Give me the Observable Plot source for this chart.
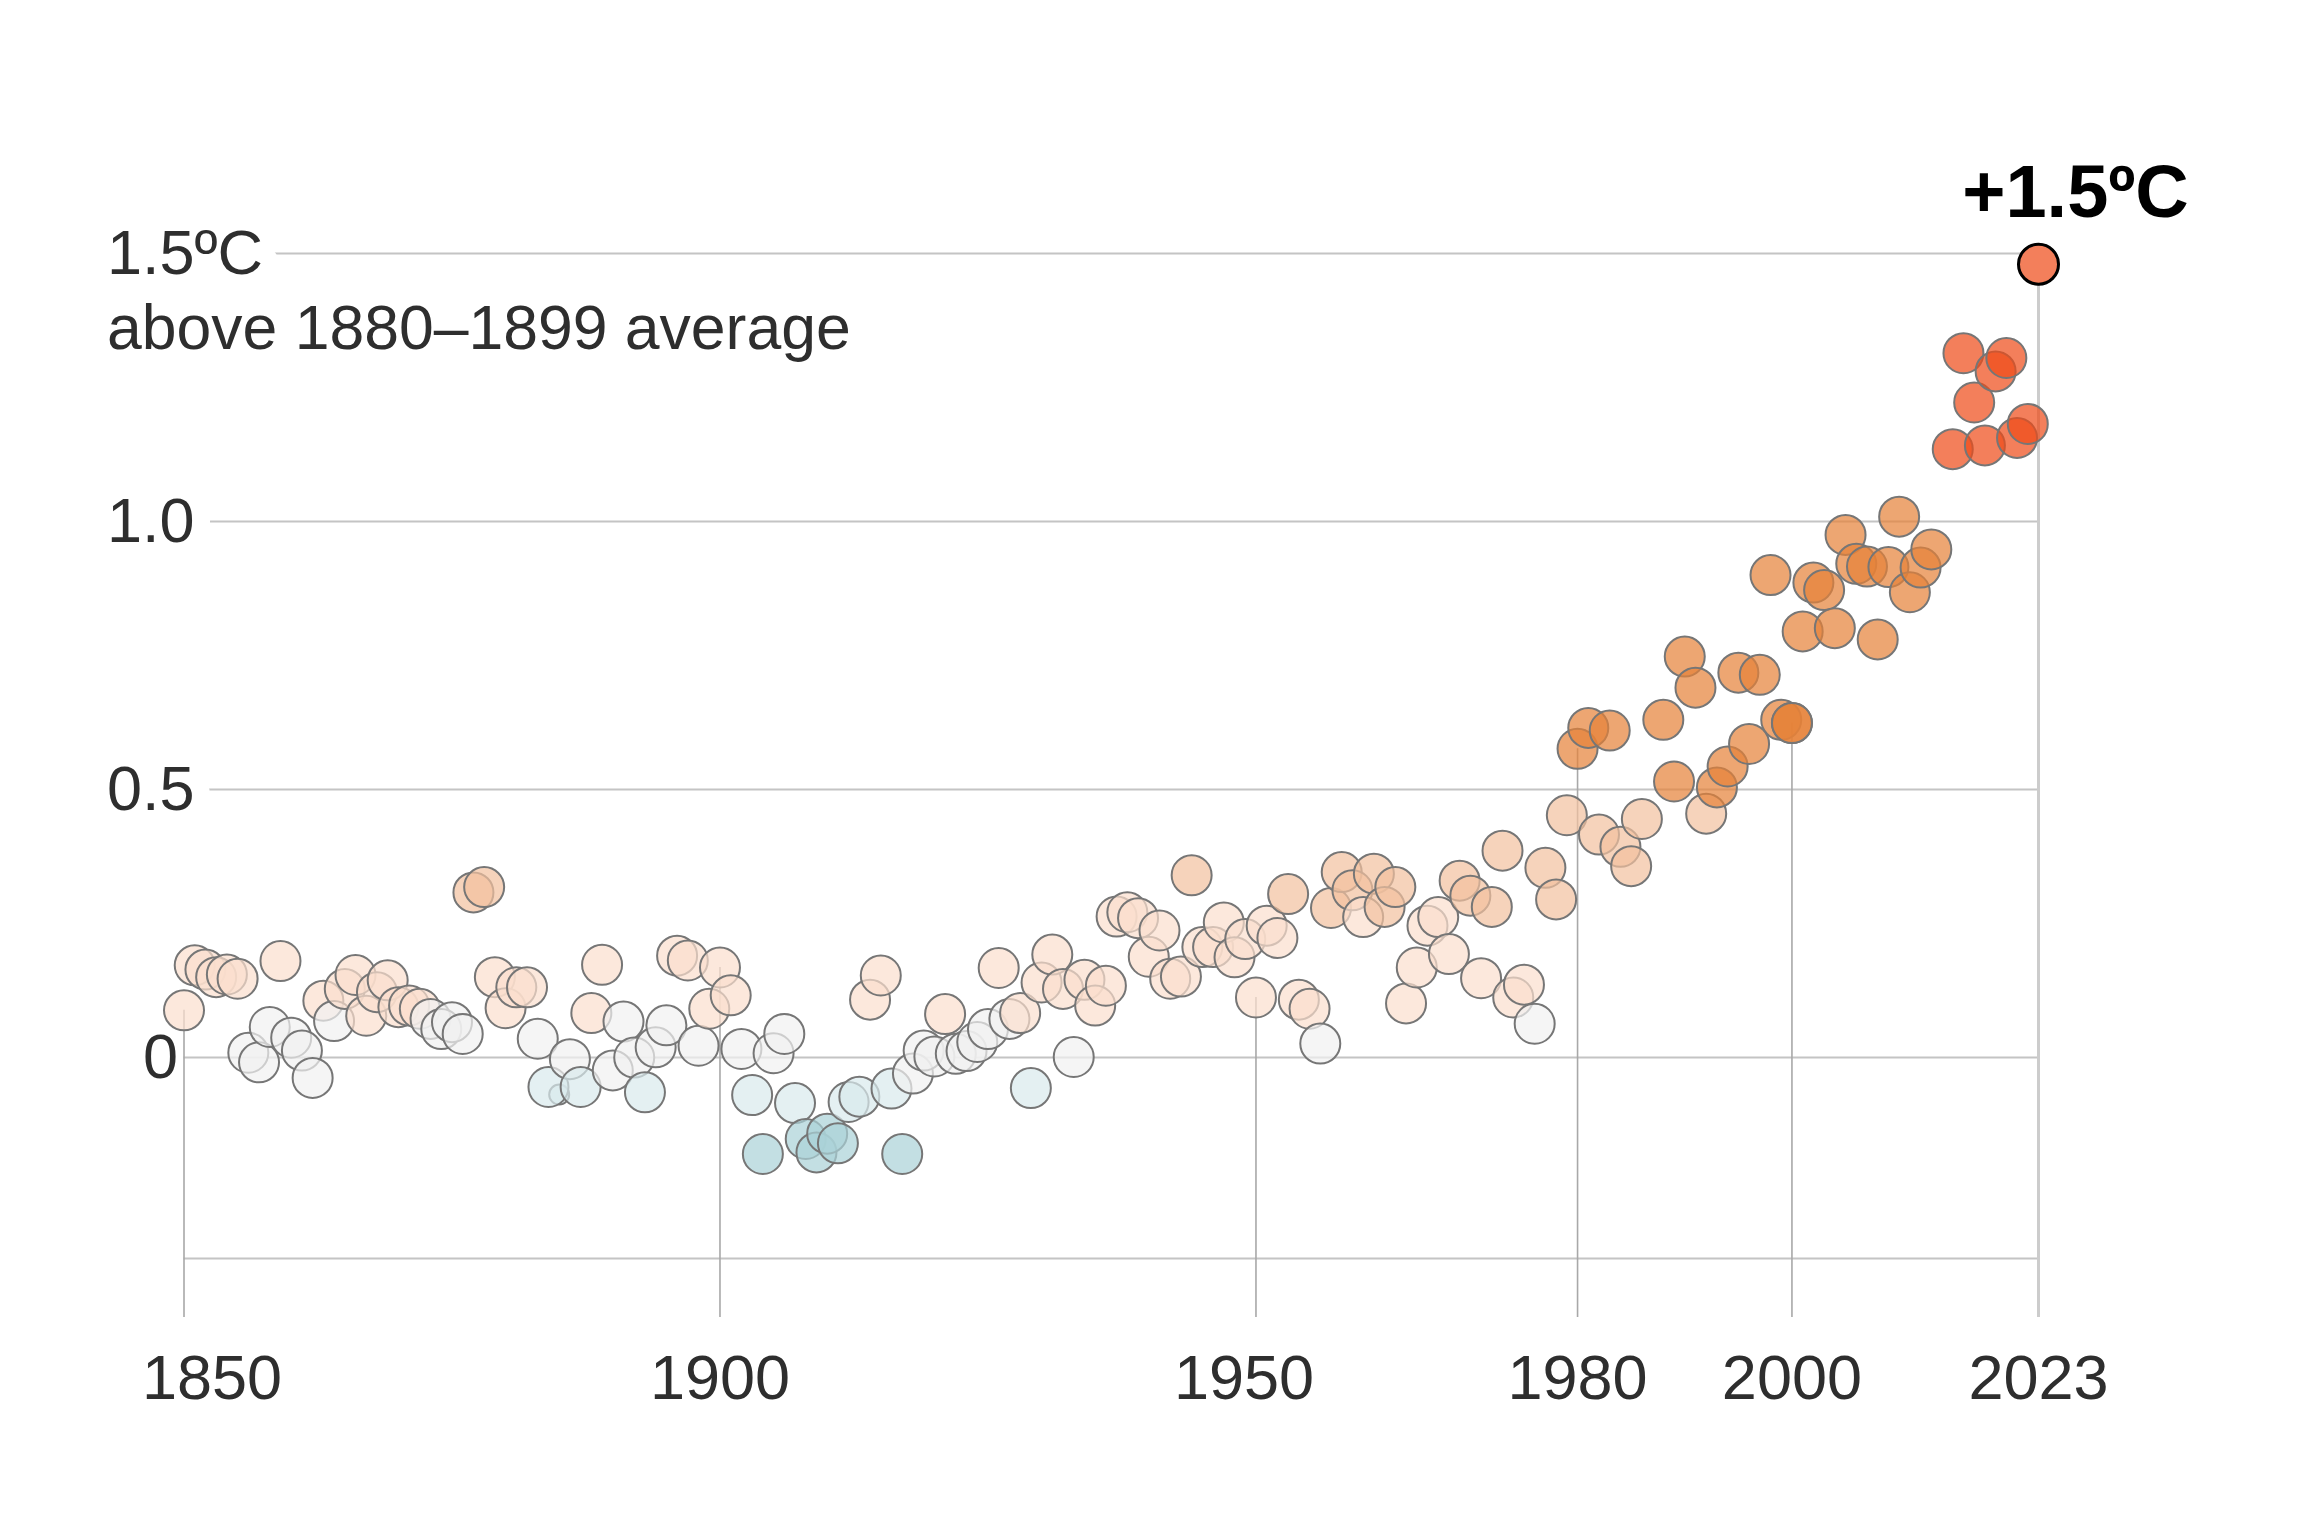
<!DOCTYPE html>
<html>
<head>
<meta charset="utf-8">
<script src="https://cdn.jsdelivr.net/npm/d3@7"></script>
<script src="https://cdn.jsdelivr.net/npm/@observablehq/plot@0.6"></script>
<style>
  html, body { margin: 0; padding: 0; background: #fff; }
  #chart svg { display: block; }
</style>
</head>
<body>
<div id="chart"></div>
<script>
// ---- Data ----
const years = [
  1850,1851,1852,1853,1854,1855,1856,1857,1858,1859,
  1860,1861,1862,1863,1864,1865,1866,1867,1868,1869,
  1870,1871,1872,1873,1874,1875,1876,1877,1878,1879,
  1880,1881,1882,1883,1884,1885,1886,1887,1888,1889,
  1890,1891,1892,1893,1894,1895,1896,1897,1898,1899,
  1900,1901,1902,1903,1904,1905,1906,1907,1908,1909,
  1910,1911,1912,1913,1914,1915,1916,1917,1918,1919,
  1920,1921,1922,1923,1924,1925,1926,1927,1928,1929,
  1930,1931,1932,1933,1934,1935,1936,1937,1938,1939,
  1940,1941,1942,1943,1944,1945,1946,1947,1948,1949,
  1950,1951,1952,1953,1954,1955,1956,1957,1958,1959,
  1960,1961,1962,1963,1964,1965,1966,1967,1968,1969,
  1970,1971,1972,1973,1974,1975,1976,1977,1978,1979,
  1980,1981,1982,1983,1984,1985,1986,1988,1989,
  1990,1991,1992,1993,1994,1995,1996,1997,1998,1999,
  2000,2001,2002,2003,2004,2005,2006,2007,2008,2009,
  2010,2011,2012,2013,2015,2016,2017,2018,2019,
  2020,2021,2022,2023
];
const anomalies = [
  0.088,0.172,0.164,0.150,0.155,0.147,0.009,-0.009,0.057,0.180,
  0.037,0.013,-0.038,0.106,0.068,0.128,0.154,0.078,0.122,0.144,
  0.094,0.097,0.091,0.072,0.053,0.066,0.044,0.308,0.318,0.150,
  0.092,0.131,0.131,0.035,-0.055,-0.069,-0.003,-0.055,0.083,0.173,
  -0.024,0.067,0.000,-0.065,0.019,0.060,0.190,0.181,0.022,0.091,
  0.168,0.116,0.016,-0.070,-0.180,0.008,0.044,-0.085,-0.152,-0.177,
  -0.142,-0.160,-0.083,-0.073,0.108,0.153,-0.058,-0.180,-0.030,0.013,
  0.002,0.081,0.007,0.012,0.029,0.053,0.167,0.072,0.083,-0.057,
  0.140,0.192,0.128,0.001,0.145,0.097,0.134,0.263,0.271,0.260,
  0.188,0.237,0.147,0.151,0.340,0.206,0.206,0.252,0.187,0.221,
  0.112,0.246,0.223,0.305,0.108,0.091,0.026,0.279,0.346,0.312,
  0.262,0.343,0.281,0.318,0.101,0.168,0.246,0.262,0.193,0.330,
  0.302,0.148,0.281,0.386,0.112,0.136,0.063,0.354,0.295,0.452,
  0.576,0.615,0.416,0.610,0.393,0.357,0.445,0.630,0.515,
  0.748,0.690,0.455,0.504,0.543,0.718,0.585,0.714,0.900,0.630,
  0.624,0.795,0.886,0.872,0.801,0.975,0.921,0.916,0.780,0.915,
  1.009,0.868,0.914,0.948,1.135,1.314,1.222,1.142,1.280,
  1.305,1.156,1.182,1.480
];
const xTickYears = [1850, 1900, 1950, 1980, 2000, 2023];
const xTickLabels = ["1850", "1900", "1950", "1980", "2000", "2023"];
const yTicks = [1.5, 1.0, 0.5];
const yTickLabels = ["1.5ºC", "1.0", "0.5"];
const zeroLabel = "0";
const unitNote = "above 1880–1899 average";
const highlightYear = 2023;
const highlightLabel = "+1.5ºC";
const faintYears = [1885];        // drawn small & underneath in the reference
const doubledYears = [2000];      // drawn twice (darker) in the reference

// colour bins
const colorBreaks = [-0.12, -0.045, 0.075, 0.275, 0.5, 1.05];
const colorRange = ["#aad2d7", "#d9eaed", "#f1f1f1", "#fbdece", "#f2c19f", "#e68238", "#ee4b18"];

// ---- Build table ----
const data = years.map((year, i) => ({year, value: anomalies[i]}));
const main = data.filter(d => !faintYears.includes(d.year));
const faint = data.filter(d => faintYears.includes(d.year));
const doubled = data.filter(d => doubledYears.includes(d.year));
const hi = data.filter(d => d.year === highlightYear);
const tickPoints = data.filter(d => xTickYears.includes(d.year) && d.year !== highlightYear);

const yMin = -0.485;
const bottomLine = -0.375;
const font = "'Liberation Sans', Arial, sans-serif";
const labelColor = "#2e2e2e";

const dotStyle = {
  x: "year", y: "value", fill: "value", fillOpacity: 0.71,
  stroke: "#767676", strokeWidth: 2
};

const xLabelDx = {1850: 28, 1950: -12};

const chart = Plot.plot({
  width: 2300,
  height: 1533,
  marginLeft: 183.5,
  marginRight: 262,
  marginTop: 253,
  marginBottom: 216,
  x: {domain: [1850, 2023], axis: null},
  y: {domain: [yMin, 1.5], axis: null},
  color: {type: "threshold", domain: colorBreaks, range: colorRange},
  style: {background: "white", fontFamily: font},
  marks: [
    // horizontal gridlines
    Plot.ruleY([0, 0.5, 1.0, 1.5, bottomLine], {x1: 1850, x2: 2023, stroke: "#c4c4c4", strokeWidth: 2}),
    // vertical rules at tick years (from the point down)
    Plot.ruleX(tickPoints, {x: "year", y1: "value", y2: yMin, stroke: "#a8a8a8", strokeWidth: 1.6}),
    Plot.ruleX(hi, {x: "year", y1: "value", y2: yMin, stroke: "#cccccc", strokeWidth: 3}),
    // y labels with white halo cutting the gridlines
    Plot.text(yTicks, {
      y: d => d, frameAnchor: "left", dx: -77, textAnchor: "start", lineAnchor: "middle",
      text: (d, i) => yTickLabels[i], fontSize: 63, fontFamily: font, fill: labelColor,
      stroke: "white", strokeWidth: 36, paintOrder: "stroke", strokeLinejoin: "round"
    }),
    Plot.text([0], {
      x: () => 1850, y: d => d, dx: -6, textAnchor: "end", lineAnchor: "middle",
      text: () => zeroLabel, fontSize: 63, fontFamily: font, fill: labelColor
    }),
    Plot.text([1.5], {
      y: d => d, frameAnchor: "left", dx: -77, dy: 95, textAnchor: "start", lineAnchor: "bottom",
      text: () => unitNote, fontSize: 62.5, fontFamily: font, fill: labelColor
    }),
    // x tick labels
    ...xTickYears.map((yr, i) => Plot.text([yr], {
      x: d => d, frameAnchor: "bottom", dy: 81, dx: xLabelDx[yr] || 0,
      textAnchor: "middle", lineAnchor: "bottom",
      text: () => xTickLabels[i], fontSize: 63, fontFamily: font, fill: labelColor
    })),
    // faint (small, underneath) dots
    Plot.dot(faint, {...dotStyle, r: 10}),
    // main dots
    Plot.dot(main, {...dotStyle, r: 20}),
    Plot.dot(doubled, {...dotStyle, r: 20}),
    // highlighted latest year
    Plot.dot(hi, {x: "year", y: "value", r: 20, fill: "#f37f5b", stroke: "black", strokeWidth: 3}),
    Plot.text(hi, {
      x: "year", y: "value", dx: 37, dy: -47, textAnchor: "middle", lineAnchor: "bottom",
      text: () => highlightLabel, fontSize: 74, fontWeight: "bold", fontFamily: font, fill: "black"
    })
  ]
});

document.getElementById("chart").appendChild(chart);
</script>
</body>
</html>
